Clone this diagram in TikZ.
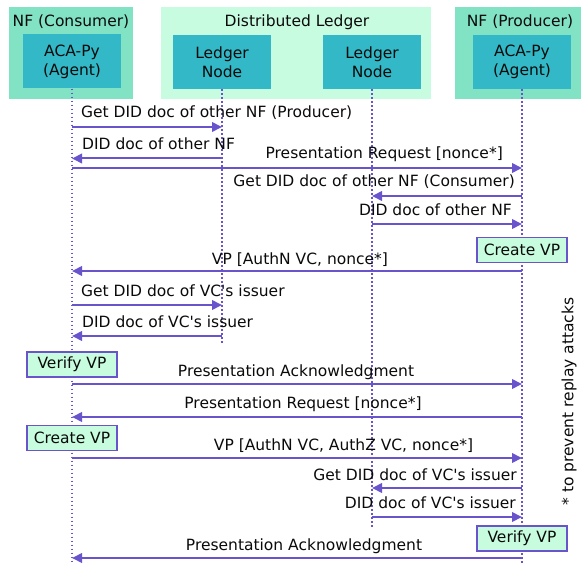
\documentclass[tikz,border=0pt]{standalone}
\usepackage{fontspec}
\setmainfont{DejaVu Sans}[Ligatures=TeXOff]
\usetikzlibrary{arrows.meta}
\definecolor{outerG}{RGB}{130,226,196}
\definecolor{ledgerG}{RGB}{200,252,224}
\definecolor{innerT}{RGB}{50,184,198}
\definecolor{arrowP}{RGB}{106,84,204}
\definecolor{actFill}{RGB}{200,252,222}
\definecolor{txt}{RGB}{10,10,10}
\begin{document}
\begin{tikzpicture}[x=1pt,y=-1pt,
  font=\fontsize{15.5}{19}\selectfont, text=txt,
  group/.style={inner sep=0, anchor=north west},
  actor/.style={fill=innerT, minimum width=98, minimum height=54, align=center, inner sep=0},
  head/.style={anchor=base, inner sep=0},
  life/.style={draw=arrowP, line width=1.7pt, dash pattern=on 1.7pt off 2.3pt},
  msg/.style={draw=arrowP, line width=2pt, -{Triangle[length=10pt,width=9.5pt]}},
  lbl/.style={inner sep=0},
  act/.style={draw=arrowP, line width=1.5pt, fill=actFill, minimum width=90, minimum height=25, inner sep=0}]
\useasboundingbox (0,0) rectangle (581,564);
% groups
\node[group, fill=outerG, minimum width=124, minimum height=92] (nfC) at (9,7) {};
\node[group, fill=ledgerG, minimum width=270, minimum height=92] (dl) at (161,7) {};
\node[group, fill=outerG, minimum width=126, minimum height=92] (nfP) at (455,7) {};
\node[head] (nfCt) at (71,26.5) {NF (Consumer)};
\node[head] (dlt) at (297,26.5) {Distributed Ledger};
\node[head] (nfPt) at (520,26.5) {NF (Producer)};
% actors
\node[actor] (acaC) at (72,61.5) {ACA-Py\\(Agent)};
\node[actor] (ledA) at (222,62) {Ledger\\Node};
\node[actor] (ledB) at (372,62) {Ledger\\Node};
\node[actor] (acaP) at (522,62) {ACA-Py\\(Agent)};
% lifelines
\coordinate (endC) at (acaC.south |- 0,564);
\coordinate (endA) at (ledA.south |- 0,345);
\coordinate (endB) at (ledB.south |- 0,527);
\coordinate (endP) at (acaP.south |- 0,564);
\draw[life] (acaC.south) -- (endC);
\draw[life] (ledA.south) -- (endA);
\draw[life] (ledB.south) -- (endB);
\draw[life] (acaP.south) -- (endP);
% messages
\draw[msg] (acaC |- 0,127) -- (ledA |- 0,127);
\node[lbl, anchor=base west] (m1) at (81,118) {Get DID doc of other NF (Producer)};
\draw[msg] (ledA |- 0,158.5) -- (acaC |- 0,158.5);
\node[lbl, anchor=base west] (m2) at (82,150) {DID doc of other NF};
\draw[msg] (acaC |- 0,168) -- (acaP |- 0,168);
\node[lbl, anchor=base east] (m3) at (503,159) {Presentation Request [nonce*]};
\draw[msg] (acaP |- 0,196) -- (ledB |- 0,196);
\node[lbl, anchor=base east] (m4) at (515,187) {Get DID doc of other NF (Consumer)};
\draw[msg] (ledB |- 0,224) -- (acaP |- 0,224);
\node[lbl, anchor=base east] (m5) at (512,215) {DID doc of other NF};
\node[act] (cvpP) at (acaP |- 0,250) {Create VP};
\draw[msg] (acaP |- 0,271) -- (acaC |- 0,271);
\node[lbl, anchor=base] (m7) at (300,264) {VP [AuthN VC, nonce*]};
\draw[msg] (acaC |- 0,305) -- (ledA |- 0,305);
\node[lbl, anchor=base west] (m8) at (81,296) {Get DID doc of VC's issuer};
\draw[msg] (ledA |- 0,336) -- (acaC |- 0,336);
\node[lbl, anchor=base west] (m9) at (82,327) {DID doc of VC's issuer};
\node[act] (vvpC) at (acaC |- 0,364.5) {Verify VP};
\draw[msg] (acaC |- 0,384) -- (acaP |- 0,384);
\node[lbl, anchor=base] (m11) at (296,376) {Presentation Acknowledgment};
\draw[msg] (acaP |- 0,417) -- (acaC |- 0,417);
\node[lbl, anchor=base] (m12) at (303,408) {Presentation Request [nonce*]};
\node[act] (cvpC) at (acaC |- 0,438) {Create VP};
\draw[msg] (acaC |- 0,458) -- (acaP |- 0,458);
\node[lbl, anchor=base] (m14) at (343.5,450) {VP [AuthN VC, AuthZ VC, nonce*]};
\draw[msg] (acaP |- 0,488) -- (ledB |- 0,488);
\node[lbl, anchor=base east] (m15) at (517,480) {Get DID doc of VC's issuer};
\draw[msg] (ledB |- 0,517) -- (acaP |- 0,517);
\node[lbl, anchor=base east] (m16) at (516,508) {DID doc of VC's issuer};
\node[act] (vvpP) at (acaP |- 0,538.5) {Verify VP};
\draw[msg] (acaP |- 0,558) -- (acaC |- 0,558);
\node[lbl, anchor=base] (m18) at (304,550) {Presentation Acknowledgment};
% note
\node[lbl, rotate=90] (note) at (569,401.5) {* to prevent replay attacks};
\end{tikzpicture}
\end{document}
